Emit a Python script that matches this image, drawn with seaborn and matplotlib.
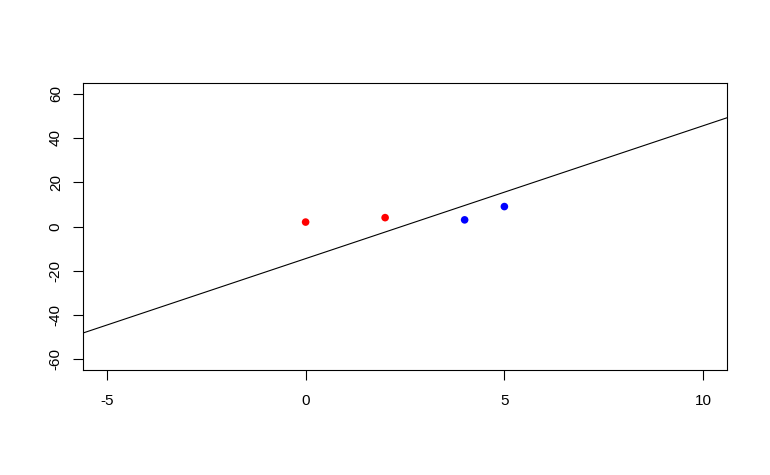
import pandas as pd
import seaborn as sns
import matplotlib.pyplot as plt

# points
x_vals = [0, 2, 4, 5]
y_vals = [2, 4, 3, 9]
groups = ['a', 'a', 'b', 'b']
group_colors = {'a': 'red', 'b': 'blue'}

# separating line: y = intercept + slope * x
intercept = -14.5
slope = 6

x_ticks = [-5, 0, 5, 10]
y_ticks = [-60, -40, -20, 0, 20, 40, 60]

df = pd.DataFrame({'x': x_vals, 'y': y_vals, 'group': groups})

sns.set_style("white")
plt.rcParams['font.family'] = ['Liberation Sans', 'DejaVu Sans']

fig = plt.figure(figsize=(7.7, 4.75), dpi=100)
ax = fig.add_axes([83 / 770, 105 / 475, 644 / 770, 287 / 475])

sns.scatterplot(data=df, x='x', y='y', hue='group', palette=group_colors,
                s=30, edgecolor='none', legend=False, ax=ax)
ax.axline((0, intercept), slope=slope, color='black', lw=0.8)

# R style 4% range extension
ax.set_xlim(-5 - 0.04 * 15, 10 + 0.04 * 15)
ax.set_ylim(-60 - 0.04 * 120, 60 + 0.04 * 120)
ax.set_xticks(x_ticks)
ax.set_yticks(y_ticks)
ax.set_xticklabels([str(t) for t in x_ticks])
ax.set_yticklabels([str(t) for t in y_ticks], rotation=90, va='center')
ax.set_xlabel('')
ax.set_ylabel('')

for sp in ax.spines.values():
    sp.set_visible(True)
    sp.set_color('black')
    sp.set_linewidth(0.8)

ax.tick_params(axis='both', which='major', direction='out', length=7.5,
               width=0.8, color='black', labelsize=11, labelcolor='black',
               left=True, bottom=True)
ax.tick_params(axis='x', pad=10)
ax.tick_params(axis='y', pad=7)

plt.savefig("out.png", dpi=100)
plt.close()
